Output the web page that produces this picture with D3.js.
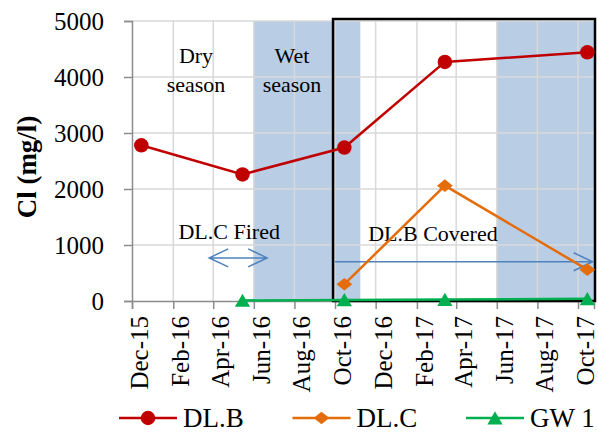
<!DOCTYPE html>
<html>
<head>
<meta charset="utf-8">
<script src="https://d3js.org/d3.v7.min.js"></script>
<style>
  body { margin: 0; background: #fff; }
</style>
</head>
<body>
<svg width="598" height="432"></svg>
<script>
var svg = d3.select("svg"),
	margin = {top: 21, left: 132, right: 4, bottom: 131},
	width = 598 - margin.left - margin.right,
	height = 432 - margin.top - margin.bottom,
	serif = "'Liberation Serif', Tinos, 'Times New Roman', Times, 'DejaVu Serif', serif";

var parse = d3.utcParse("%Y-%m-%d");

// series
var dlbDates = ["2015-12-15", "2016-05-15", "2016-10-15", "2017-03-15", "2017-10-15"];
var dlbValues = [2780, 2260, 2740, 4270, 4440];
var dlcDates = ["2016-10-15", "2017-03-15", "2017-10-15"];
var dlcValues = [300, 2060, 560];
var gwDates = ["2016-05-15", "2016-10-15", "2017-03-15", "2017-10-15"];
var gwValues = [10, 20, 25, 40];

// axis ticks
var tickDates = ["2015-12-01", "2016-02-01", "2016-04-01", "2016-06-01", "2016-08-01", "2016-10-01",
	"2016-12-01", "2017-02-01", "2017-04-01", "2017-06-01", "2017-08-01", "2017-10-01"];
var tickLabels = ["Dec-15", "Feb-16", "Apr-16", "Jun-16", "Aug-16", "Oct-16",
	"Dec-16", "Feb-17", "Apr-17", "Jun-17", "Aug-17", "Oct-17"];
var yTicks = [0, 1000, 2000, 3000, 4000, 5000];

// wet season bands
var wetStart = ["2016-06-01", "2017-06-01"];
var wetEnd = ["2016-11-08", "2017-10-25"];

var x = d3.scaleUtc()
	.domain([parse("2015-12-01"), parse("2017-10-25")])
	.range([0, width]);
var y = d3.scaleLinear()
	.domain([0, 5000])
	.range([height, 0]);

var g = svg.append("g")
	.attr("transform", "translate(" + margin.left + "," + margin.top + ")");

// shading
g.append("g")
	.selectAll("rect")
	.data(wetStart)
	.enter().append("rect")
	.attr("x", function (d) { return x(parse(d)); })
	.attr("y", 0)
	.attr("width", function (d, i) { return x(parse(wetEnd[i])) - x(parse(d)); })
	.attr("height", height)
	.attr("fill", "#b9cde5");

// grid
g.append("g")
	.selectAll("line")
	.data(yTicks.slice(1))
	.enter().append("line")
	.attr("x1", 0).attr("x2", width)
	.attr("y1", function (d) { return y(d); })
	.attr("y2", function (d) { return y(d); })
	.attr("stroke", "#d9d9d9").attr("stroke-width", 1.5);
g.append("g")
	.selectAll("line")
	.data(tickDates.slice(1))
	.enter().append("line")
	.attr("x1", function (d) { return x(parse(d)); })
	.attr("x2", function (d) { return x(parse(d)); })
	.attr("y1", 0).attr("y2", height)
	.attr("stroke", "#d9d9d9").attr("stroke-width", 1.5);

// axes
var yAxis = g.append("g")
	.call(d3.axisLeft(y).tickValues(yTicks).tickSize(8).tickPadding(20).tickFormat(d3.format("d")));
var xAxis = g.append("g")
	.attr("transform", "translate(0," + height + ")")
	.call(d3.axisBottom(x)
		.tickValues(tickDates.map(parse))
		.tickSize(8)
		.tickFormat(function (d, i) { return tickLabels[i]; }));
[yAxis, xAxis].forEach(function (a) {
	a.attr("font-family", null);
	a.select(".domain").attr("stroke", "#8c8c8c").attr("stroke-width", 1.5);
	a.selectAll(".tick line").attr("stroke", "#8c8c8c").attr("stroke-width", 1.5);
	a.selectAll("text").style("font-family", serif).attr("fill", "#000");
});
yAxis.selectAll("text").attr("font-size", 25).attr("dy", "0.35em");
xAxis.selectAll("text")
	.attr("font-size", 25)
	.attr("text-anchor", "end")
	.attr("transform", "translate(0,15) rotate(-90)")
	.attr("x", 0).attr("y", 0)
	.attr("dy", "0.62em");

// y label
svg.append("text")
	.attr("transform", "translate(27,167) rotate(-90)")
	.attr("text-anchor", "middle")
	.attr("dy", "0.35em")
	.attr("font-size", 27)
	.attr("font-weight", "bold")
	.style("font-family", serif)
	.text("Cl (mg/l)");

// covered box
g.append("rect")
	.attr("x", x(parse("2016-09-28")))
	.attr("y", -2)
	.attr("width", width + 1 - x(parse("2016-09-28")))
	.attr("height", height + 2)
	.attr("fill", "none")
	.attr("stroke", "#000")
	.attr("stroke-width", 2.5);

// annotations
var blue = "#4f81bd";
function chevron(px, py, dir) {
	return "M" + (px - dir * 19) + "," + (py - 9) + "L" + px + "," + py + "L" + (px - dir * 19) + "," + (py + 9);
}
var a1x1 = x(parse("2016-03-26")), a1x2 = x(parse("2016-06-21")), a1y = y(770);
g.append("path")
	.attr("d", "M" + a1x1 + "," + a1y + "L" + a1x2 + "," + a1y + chevron(a1x2, a1y, 1) + chevron(a1x1, a1y, -1))
	.attr("fill", "none").attr("stroke", blue).attr("stroke-width", 1.5);
var a2x1 = x(parse("2016-10-01")), a2x2 = x(parse("2017-10-23")), a2y = y(700);
g.append("path")
	.attr("d", "M" + a2x1 + "," + a2y + "L" + a2x2 + "," + a2y + chevron(a2x2, a2y, 1))
	.attr("fill", "none").attr("stroke", blue).attr("stroke-width", 1.5);

function note(px, py, txt) {
	g.append("text").attr("x", px).attr("y", py)
		.attr("text-anchor", "middle").attr("font-size", 22)
		.style("font-family", serif)
		.text(txt);
}
note(x(parse("2016-04-25")), y(1110), "DL.C Fired");
note(x(parse("2017-02-25")), y(1065), "DL.B Covered");
note(196 - margin.left, 63 - margin.top, "Dry");
note(196 - margin.left, 92 - margin.top, "season");
note(292 - margin.left, 63 - margin.top, "Wet");
note(292 - margin.left, 92 - margin.top, "season");

// wide diamond like the spreadsheet marker
var wideDiamond = {
	draw: function (context, size) {
		var w = Math.sqrt(size) * 0.75, h = w * 0.8;
		context.moveTo(-w, 0);
		context.lineTo(0, -h);
		context.lineTo(w, 0);
		context.lineTo(0, h);
		context.closePath();
	}
};

// series
var series = [
	{name: "DL.B", color: "#c00000", shape: d3.symbolCircle, size: 165, dy: 0, dates: dlbDates, values: dlbValues},
	{name: "DL.C", color: "#e46c0a", shape: wideDiamond, size: 110, dy: 0, dates: dlcDates, values: dlcValues},
	{name: "GW 1", color: "#00b050", shape: d3.symbolTriangle, size: 100, dy: 2, dates: gwDates, values: gwValues}
];

var line = d3.line()
	.x(function (d) { return x(d.date); })
	.y(function (d) { return y(d.value); });

series.forEach(function (s) {
	var pts = s.dates.map(function (d, i) { return {date: parse(d), value: s.values[i]}; });
	g.append("path")
		.datum(pts)
		.attr("d", line)
		.attr("fill", "none")
		.attr("stroke", s.color)
		.attr("stroke-width", 2.5);
	g.append("g")
		.selectAll("path")
		.data(pts)
		.enter().append("path")
		.attr("transform", function (d) {
			return "translate(" + x(d.date) + "," + (y(d.value) + s.dy) + ")";
		})
		.attr("d", d3.symbol().type(s.shape).size(s.size))
		.attr("fill", s.color);
});

// legend
var legend = svg.append("g")
	.selectAll("g")
	.data(series)
	.enter().append("g")
	.attr("transform", function (d, i) { return "translate(" + (119 + i * 173.5) + ",418)"; });
legend.append("line")
	.attr("x1", 0).attr("x2", 58)
	.attr("stroke", function (d) { return d.color; })
	.attr("stroke-width", 2.5);
legend.append("path")
	.attr("transform", function (d) { return "translate(29," + d.dy + ")"; })
	.attr("d", function (d) { return d3.symbol().type(d.shape).size(d.size)(); })
	.attr("fill", function (d) { return d.color; });
legend.append("text")
	.attr("x", 64)
	.attr("dy", "0.35em")
	.attr("font-size", 27)
	.style("font-family", serif)
	.text(function (d) { return d.name; });
</script>
</body>
</html>
